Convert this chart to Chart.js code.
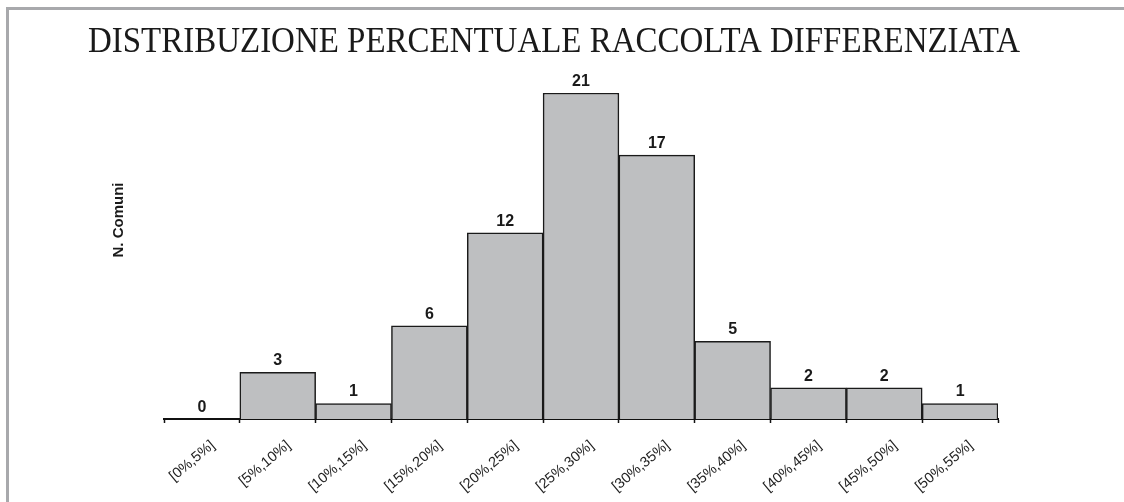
<!DOCTYPE html>
<html>
<head>
<meta charset="utf-8">
<script src="https://cdn.jsdelivr.net/npm/chart.js@4/dist/chart.umd.min.js"></script>
<style>
  html, body { margin: 0; padding: 0; background: #fff; }
  #wrap { width: 1124px; height: 502px; position: relative; }
</style>
</head>
<body>
<div id="wrap"><canvas id="chart" width="1124" height="502"></canvas></div>
<script>
// dati
const classi = ["[0%,5%]", "[5%,10%]", "[10%,15%]", "[15%,20%]", "[20%,25%]", "[25%,30%]",
  "[30%,35%]", "[35%,40%]", "[40%,45%]", "[45%,50%]", "[50%,55%]"];
const numComuni = [0, 3, 1, 6, 12, 21, 17, 5, 2, 2, 1];
const titolo = "DISTRIBUZIONE PERCENTUALE RACCOLTA DIFFERENZIATA";
const etichettaY = "N. Comuni";

// cornice, titolo condensato, etichetta asse y
const decorazioni = {
  id: "decorazioni",
  beforeDraw(chart) {
    const ctx = chart.ctx;
    ctx.save();
    ctx.fillStyle = "#fff";
    ctx.fillRect(0, 0, chart.width, chart.height);
    ctx.strokeStyle = "#a8a9ac";
    ctx.lineWidth = 3;
    ctx.beginPath();
    ctx.moveTo(7.5, chart.height);
    ctx.lineTo(7.5, 8.5);
    ctx.lineTo(chart.width, 8.5);
    ctx.stroke();
    ctx.restore();
  },
  afterDraw(chart) {
    const ctx = chart.ctx;
    ctx.save();
    ctx.font = "35px 'Liberation Serif', 'DejaVu Serif', serif";
    ctx.fillStyle = "#1a1a1a";
    ctx.textBaseline = "alphabetic";
    ctx.textAlign = "center";
    const w = ctx.measureText(titolo).width;
    const sx = 932 / w;
    ctx.translate(554, 52);
    ctx.scale(sx, 1);
    ctx.fillText(titolo, 0, 0);
    ctx.restore();

    ctx.save();
    ctx.font = "bold 15px 'Liberation Sans', Arial, sans-serif";
    ctx.fillStyle = "#1a1a1a";
    ctx.textAlign = "center";
    ctx.textBaseline = "middle";
    ctx.translate(118.5, 220);
    ctx.rotate(-Math.PI / 2);
    ctx.fillText(etichettaY, 0, 0);
    ctx.restore();

    // valori sopra le barre
    const meta = chart.getDatasetMeta(0);
    ctx.save();
    ctx.font = "bold 16px 'Liberation Sans', Arial, sans-serif";
    ctx.fillStyle = "#1a1a1a";
    ctx.textAlign = "center";
    ctx.textBaseline = "alphabetic";
    meta.data.forEach((bar, i) => {
      ctx.fillText(String(numComuni[i]), bar.x, bar.y - 7);
    });
    ctx.restore();
  }
};

new Chart(document.getElementById("chart"), {
  type: "bar",
  data: {
    labels: classi,
    datasets: [{
      label: etichettaY,
      data: numComuni,
      backgroundColor: "#bebfc1",
      borderColor: "#1a1a1a",
      borderWidth: 1.5,
      barPercentage: 1,
      categoryPercentage: 1
    }]
  },
  options: {
    responsive: false,
    animation: false,
    layout: { padding: { left: 164, right: 126, top: 93, bottom: 0 } },
    plugins: {
      legend: { display: false },
      tooltip: { enabled: false },
      title: { display: false }
    },
    scales: {
      y: {
        display: false,
        min: 0,
        max: 21
      },
      x: {
        afterFit(scale) { scale.height = 83; },
        border: { display: true, color: "#111", width: 2 },
        grid: {
          offset: true,
          drawOnChartArea: false,
          drawTicks: true,
          tickLength: 4,
          tickWidth: 1.5,
          tickColor: "#111",
          color: "#111"
        },
        ticks: {
          minRotation: 40,
          maxRotation: 40,
          padding: 14,
          labelOffset: 11,
          color: "#222",
          font: { family: "'Liberation Sans', Arial, sans-serif", size: 14.5 }
        }
      }
    }
  },
  plugins: [decorazioni]
});
</script>
</body>
</html>
